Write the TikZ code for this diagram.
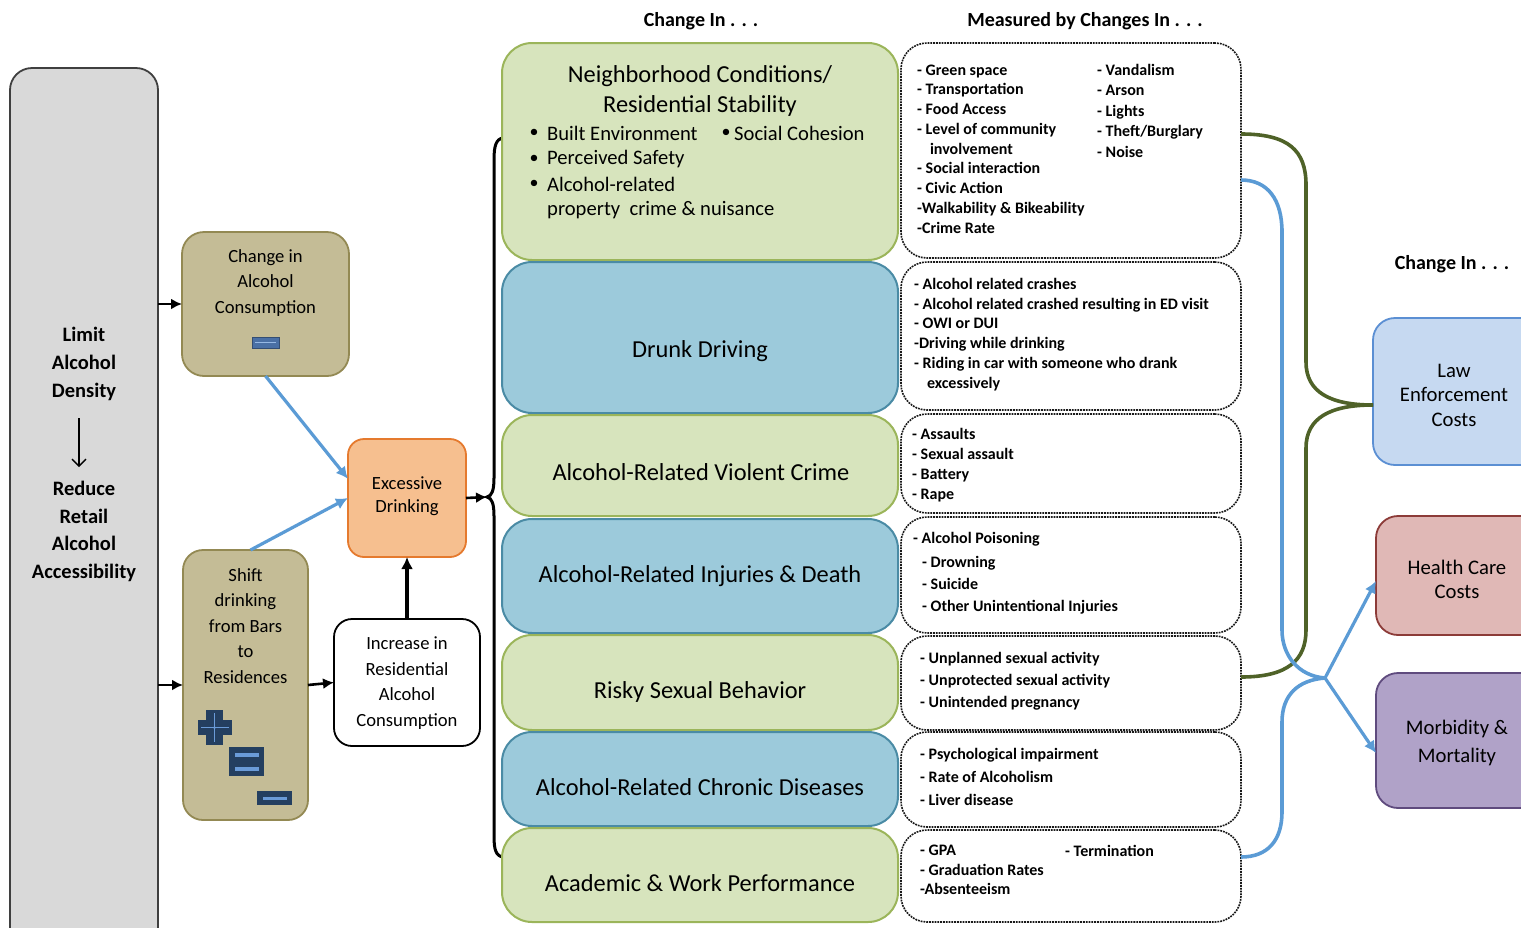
\documentclass[tikz,border=0pt]{standalone}
\usepackage{fontspec}
\setmainfont{Carlito}
\usetikzlibrary{arrows.meta}
\definecolor{grayfill}{HTML}{D9D9D9}
\definecolor{graydraw}{HTML}{3F3F3F}
\definecolor{tanfill}{HTML}{C4BC96}
\definecolor{tandraw}{HTML}{938953}
\definecolor{orfill}{HTML}{F6BF8F}
\definecolor{ordraw}{HTML}{E57A2E}
\definecolor{grfill}{HTML}{D7E4BD}
\definecolor{grdraw}{HTML}{9BB55A}
\definecolor{blfill}{HTML}{9CCADB}
\definecolor{bldraw}{HTML}{4A8BA5}
\definecolor{lawfill}{HTML}{C6D9F1}
\definecolor{lawdraw}{HTML}{5B8FD3}
\definecolor{hcfill}{HTML}{E0B8B6}
\definecolor{hcdraw}{HTML}{8C3B38}
\definecolor{mmfill}{HTML}{B0A2C8}
\definecolor{mmdraw}{HTML}{5F4B7E}
\definecolor{olive}{HTML}{4F6228}
\definecolor{linkblue}{HTML}{5B9BD5}
\definecolor{navy}{HTML}{243F60}
\definecolor{iconlight}{HTML}{6A9BD8}
\definecolor{minusblue}{HTML}{4A70A5}
\begin{document}
\begin{tikzpicture}[x=1pt,y=-1pt,
  box/.style={inner sep=0pt, outer sep=0pt, line width=1.8pt},
  graybox/.style={box, fill=grayfill, draw=graydraw, rounded corners=22pt, line width=1.8pt},
  tanbox/.style={box, fill=tanfill, draw=tandraw, rounded corners=22pt},
  orbox/.style={box, fill=orfill, draw=ordraw, rounded corners=16pt},
  whbox/.style={box, fill=white, draw=black, rounded corners=18pt},
  grbox/.style={box, fill=grfill, draw=grdraw, rounded corners=30pt, minimum width=396pt, line width=2pt},
  blbox/.style={box, fill=blfill, draw=bldraw, rounded corners=30pt, minimum width=396pt, line width=2pt},
  dotbox/.style={box, draw=black!90, densely dotted, line width=1.6pt, rounded corners=26pt, minimum width=340pt},
  lawbox/.style={box, fill=lawfill, draw=lawdraw, rounded corners=22pt},
  hcbox/.style={box, fill=hcfill, draw=hcdraw, rounded corners=22pt},
  mmbox/.style={box, fill=mmfill, draw=mmdraw, rounded corners=22pt},
  blk/.style={line width=2.6pt, -{Latex[length=11pt,width=11pt]}},
  bluearrow/.style={line width=3.2pt, linkblue, -{Latex[length=12pt,width=12pt]}},
  oliveline/.style={line width=3.6pt, olive},
  blueline/.style={line width=3.6pt, linkblue},
  hdr/.style={font=\bfseries\fontsize{20}{22}\selectfont},
  bigtxt/.style={font=\fontsize{24.4}{30}\selectfont, align=center},
  bulfont/.style={font=\fontsize{18}{24}\selectfont},
  bultxt/.style={font=\fontsize{20.6}{24}\selectfont, anchor=west, inner sep=0pt},
  medtxt/.style={font=\fontsize{18.6}{25.5}\selectfont, align=center},
  righttxt/.style={font=\fontsize{20.7}{24.5}\selectfont, align=center},
  smalltxt/.style={anchor=west, inner sep=0pt, align=left}
]
\useasboundingbox (0,0) rectangle (1521,927);
\clip (0,0) rectangle (1521,927);

% headers
\node[hdr] (h1) at (701,21) {Change In . . .};
\node[hdr] (h2) at (1085,21) {Measured by Changes In . . .};
\node[hdr] (h3) at (1452,264) {Change In . . .};

% left gray box
\node[graybox, minimum width=148pt, minimum height=890pt] (limit) at (84,513) {};
\node[font=\bfseries\fontsize{20.5}{28}\selectfont, align=center] (limt1) at (84,364) {Limit\\Alcohol\\Density};
\node[font=\bfseries\fontsize{20.5}{27.7}\selectfont, align=center] (limt2) at (84,531.5) {Reduce\\Retail\\Alcohol\\Accessibility};
\coordinate (la1) at (79,418);
\coordinate (la2) at (79,467);
\draw[line width=1.3pt, -{Straight Barb[length=7pt,width=14pt]}] (la1) -- (la2);

% second column
\node[tanbox, minimum width=167pt, minimum height=144pt] (chg) at (265.5,304) {};
\node[medtxt] (chgt) at (265.5,283) {Change in\\Alcohol\\Consumption};
\filldraw[fill=minusblue, draw=minusblue!70!black, line width=0.8pt] (252,337) rectangle (279,348);
\draw[iconlight!70!white, line width=0.7pt] (255,342.5) -- (276,342.5);

\node[tanbox, minimum width=125pt, minimum height=270pt, rounded corners=20pt] (shift) at (245.5,685) {};
\node[medtxt] (shiftt) at (245.5,626) {Shift\\drinking\\from Bars\\to\\Residences};
% icons
\fill[navy] (206,710) rectangle (223,745);
\fill[navy] (198,720) rectangle (232,735);
\draw[iconlight, line width=0.8pt] (214.5,713) -- (214.5,742) (201,727.5) -- (229,727.5);
\fill[iconlight] (214.5,727.5) circle (1.5pt);
\fill[navy] (229,747) rectangle (264,776);
\fill[iconlight] (235,753) rectangle (259,756.5);
\fill[iconlight] (235,767) rectangle (259,770.5);
\fill[navy] (257,791) rectangle (292,805);
\fill[iconlight] (263,796.5) rectangle (287,799.5);

\node[orbox, minimum width=118pt, minimum height=118pt] (exc) at (407,498) {};
\node[medtxt, font=\fontsize{18.6}{23}\selectfont] (exct) at (407,496.5) {Excessive\\Drinking};

\node[whbox, minimum width=146pt, minimum height=127pt] (inc) at (407,682.5) {};
\node[medtxt] (inct) at (407,683) {Increase in\\Residential\\Alcohol\\Consumption};

% left connectors
\draw[blk] (limit.east |- chg.west) -- (chg.west);
\draw[blk] (limit.east |- shift.west) -- (shift.west);
\draw[blk] (shift.east) -- (inc.west);
\draw[line width=3.2pt, -{Latex[length=12pt,width=12pt]}] (inc.north) -- (exc.south);
\draw[bluearrow] (chg.south) -- (exc.162);
\draw[bluearrow] ([xshift=5pt]shift.north) -- (exc.west);

% brace
\coordinate (btop) at (503,138);
\coordinate (btip) at (487,497);
\coordinate (bbot) at (503,857);
\draw[line width=3pt] (btop) .. controls (496,139) and (494,146) .. (494,160) -- (494,478)
   .. controls (494,490) and (492,496) .. (btip)
   .. controls (492,498) and (494,504) .. (494,516) -- (494,836)
   .. controls (494,850) and (496,856) .. (bbot);
\draw[blk] (exc.east) -- (btip);

% middle boxes
\node[grbox, minimum height=217pt] (nb) at (700,151.5) {};
\node[blbox, minimum height=151pt] (dd) at (700,337.5) {};
\node[grbox, minimum height=101pt] (vc) at (700,465.5) {};
\node[blbox, minimum height=114pt] (inj) at (700,576) {};
\node[grbox, minimum height=95pt] (rs) at (700,682.5) {};
\node[blbox, minimum height=94pt] (cd) at (700,779) {};
\node[grbox, minimum height=94pt] (ac) at (700,875) {};

\node[bigtxt] (nbt) at (700,91) {Neighborhood Conditions/\\Residential Stability};
\node[bulfont] (b1) at (534,133) {\textbullet};
\node[bultxt] (nb1) at (547,133) {Built Environment};
\node[bulfont] (b2) at (726,133) {\textbullet};
\node[bultxt] (nb2) at (734,133) {Social Cohesion};
\node[bulfont] (b3) at (534,159) {\textbullet};
\node[bultxt] (nb3) at (547,159) {Perceived Safety};
\node[bulfont] (b4) at (534,184) {\textbullet};
\node[bultxt] (nb4) at (547,184) {Alcohol-related};
\node[bultxt] (nb5) at (547,210) {property\ \ crime \& nuisance};

\node[bigtxt] (ddt) at (700,351) {Drunk Driving};
\node[bigtxt] (vct) at (701,472) {Alcohol-Related Violent Crime};
\node[bigtxt] (injt) at (700,576) {Alcohol-Related Injuries \& Death};
\node[bigtxt] (rst) at (700,692) {Risky Sexual Behavior};
\node[bigtxt] (cdt) at (700,787) {Alcohol-Related Chronic Diseases};
\node[bigtxt] (act) at (700,883) {Academic \& Work Performance};

% measured boxes
\node[dotbox, minimum height=215pt] (m1) at (1071,150.5) {};
\node[dotbox, minimum height=148pt] (m2) at (1071,336) {};
\node[dotbox, minimum height=99pt] (m3) at (1071,463.5) {};
\node[dotbox, minimum height=116pt] (m4) at (1071,575) {};
\node[dotbox, minimum height=94pt] (m5) at (1071,683) {};
\node[dotbox, minimum height=95pt] (m6) at (1071,779.5) {};
\node[dotbox, minimum height=92pt] (m7) at (1071,876) {};

\node[smalltxt, font=\bfseries\fontsize{16}{19.75}\selectfont] (m1a) at (917,149) {- Green space\\- Transportation\\- Food Access\\- Level of community\\\hspace*{0.8em}involvement\\- Social interaction\\- Civic Action\\-Walkability \& Bikeability\\-Crime Rate};
\node[smalltxt, font=\bfseries\fontsize{16}{20.5}\selectfont] (m1b) at (1097,110.5) {- Vandalism\\- Arson\\- Lights\\- Theft/Burglary\\- Noise};
\node[smalltxt, font=\bfseries\fontsize{16}{19.8}\selectfont] (m2a) at (914,334.5) {- Alcohol related crashes\\- Alcohol related crashed resulting in ED visit\\- OWI or DUI\\-Driving while drinking\\- Riding in car with someone who drank\\\hspace*{0.8em}excessively};
\node[smalltxt, font=\bfseries\fontsize{16}{20}\selectfont] (m3a) at (912,465) {- Assaults\\- Sexual assault\\- Battery\\- Rape};
\node[smalltxt, font=\bfseries\fontsize{16}{20}\selectfont] (m4a) at (913,539) {- Alcohol Poisoning};
\node[smalltxt, font=\bfseries\fontsize{16}{22}\selectfont] (m4b) at (922,585) {- Drowning\\- Suicide\\- Other Unintentional Injuries};
\node[smalltxt, font=\bfseries\fontsize{16}{22}\selectfont] (m5a) at (920,681) {- Unplanned sexual activity\\- Unprotected sexual activity\\- Unintended pregnancy};
\node[smalltxt, font=\bfseries\fontsize{16}{23}\selectfont] (m6a) at (920,777) {- Psychological impairment\\- Rate of Alcoholism\\- Liver disease};
\node[smalltxt, font=\bfseries\fontsize{16}{19.5}\selectfont] (m7a) at (920,870) {- GPA\\- Graduation Rates\\-Absenteeism};
\node[smalltxt, font=\bfseries\fontsize{16}{19.5}\selectfont] (m7b) at (1065,851) {- Termination};

% right boxes
\node[lawbox, minimum width=172pt, minimum height=147pt] (law) at (1459,391.5) {};
\node[righttxt] (lawt) at (1454,395) {Law\\Enforcement\\Costs};
\node[hcbox, minimum width=172pt, minimum height=119pt] (hc) at (1462,575.5) {};
\node[righttxt] (hct) at (1457,579.5) {Health Care\\Costs};
\node[mmbox, minimum width=172pt, minimum height=135pt] (mm) at (1462,740.5) {};
\node[righttxt, font=\fontsize{20.7}{28}\selectfont] (mmt) at (1457,743) {Morbidity \&\\Mortality};

% right connectors
\coordinate (o1) at (m1.east |- 0,134);
\coordinate (o2) at (m5.east |- 0,677);
\coordinate (lawin) at (law.west |- 0,405);
\draw[oliveline] (o1) .. controls (1288,134) and (1306,150) .. (1306,185) -- (1306,362)
   .. controls (1306,392) and (1330,405) .. (lawin);
\draw[oliveline] (o2) .. controls (1288,677) and (1306,660) .. (1306,630) -- (1306,448)
   .. controls (1306,418) and (1330,405) .. (lawin);
\coordinate (b1s) at (m1.east |- 0,180);
\coordinate (b2s) at (m7.east |- 0,857);
\coordinate (junc) at (1325,678);
\draw[blueline] (b1s) .. controls (1268,180) and (1282,200) .. (1282,232) -- (1282,630)
   .. controls (1282,655) and (1298,676) .. (junc);
\draw[blueline] (b2s) .. controls (1268,857) and (1282,840) .. (1282,812) -- (1282,722)
   .. controls (1282,695) and (1298,680) .. (junc);
\draw[bluearrow] (junc) -- (hc.west |- 0,581);
\draw[bluearrow] (junc) -- (mm.west |- 0,753);
\end{tikzpicture}
\end{document}
